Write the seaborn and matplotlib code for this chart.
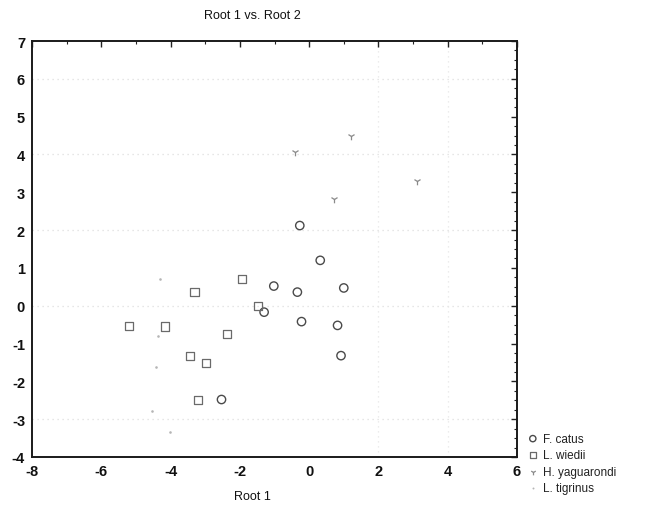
import matplotlib
matplotlib.use("Agg")
import matplotlib.pyplot as plt
from matplotlib.ticker import MultipleLocator
import seaborn as sns
import pandas as pd

# ---- data ----
catus_x = [-0.27, 0.32, -1.02, -0.34, 1.00, -1.30, -0.22, 0.82, 0.92, -2.53]
catus_y = [2.12, 1.20, 0.52, 0.36, 0.47, -0.17, -0.42, -0.52, -1.32, -2.48]
wiedii_x = [-1.95, -3.31, -1.47, -5.20, -4.16, -2.36, -3.44, -2.99, -3.20]
wiedii_y = [0.71, 0.36, 0.00, -0.53, -0.55, -0.75, -1.32, -1.51, -2.49]
yagua_x = [1.21, -0.40, 3.12, 0.73]
yagua_y = [4.50, 4.06, 3.31, 2.83]
tigr_x = [-4.30, -4.37, -4.42, -4.54, -4.01]
tigr_y = [0.71, -0.79, -1.63, -2.78, -3.34]
species = ["F. catus", "L. wiedii", "H. yaguarondi", "L. tigrinus"]
x_ticks = [-8, -6, -4, -2, 0, 2, 4, 6]
y_ticks = [-4, -3, -2, -1, 0, 1, 2, 3, 4, 5, 6, 7]
title = "Root 1 vs. Root 2"
xlabel = "Root 1"

df = pd.concat([
    pd.DataFrame({"x": catus_x, "y": catus_y, "sp": species[0]}),
    pd.DataFrame({"x": wiedii_x, "y": wiedii_y, "sp": species[1]}),
    pd.DataFrame({"x": yagua_x, "y": yagua_y, "sp": species[2]}),
    pd.DataFrame({"x": tigr_x, "y": tigr_y, "sp": species[3]}),
])

sns.set_style("white")
plt.rcParams["font.family"] = ["Liberation Sans", "DejaVu Sans"]
plt.rcParams["axes.unicode_minus"] = False

fig = plt.figure(figsize=(6.46, 5.06), dpi=100)
ax = fig.add_axes([32 / 646, 1 - 458 / 506, (517 - 32) / 646, (458 - 42) / 506])

# faint dotted scan-like grid
for gy in [6, 4, 2, 0, -3]:
    ax.axhline(gy, color="#dedede", lw=0.9, ls=(0, (1, 3)), zorder=0)
for gx in [2, 4]:
    ax.axvline(gx, color="#e6e6e6", lw=0.9, ls=(0, (1, 3)), zorder=0)

styles = {
    species[0]: dict(marker="o", s=36, facecolor="none", edgecolor="#4a4a4a", linewidth=1.0),
    species[1]: dict(marker="s", s=34, facecolor="none", edgecolor="#6a6a6a", linewidth=0.9),
    species[2]: dict(marker="1", s=30, color="#8a8a8a", linewidth=0.9),
    species[3]: dict(marker=".", s=14, color="#b5b5b5", linewidth=0.0),
}
for sp in species:
    sub = df[df["sp"] == sp]
    sns.scatterplot(data=sub, x="x", y="y", ax=ax, label=sp, zorder=3, **styles[sp])

ax.set_xlim(-8, 6)
ax.set_ylim(-4, 7)
ax.set_xticks(x_ticks)
ax.set_yticks(y_ticks)
ax.xaxis.set_minor_locator(MultipleLocator(1))
ax.yaxis.set_minor_locator(MultipleLocator(0.25))
ax.tick_params(axis="both", which="both", direction="in", top=True, right=True,
               color="#222222")
ax.tick_params(axis="both", which="major", length=4, width=1, labelsize=10.5,
               labelcolor="#111111", pad=5)
ax.tick_params(axis="both", which="minor", length=2.5, width=0.8)
for lbl in ax.get_xticklabels() + ax.get_yticklabels():
    lbl.set_fontweight("semibold")
ax.set_xlabel("")
ax.set_ylabel("")
for sp_ in ax.spines.values():
    sp_.set_color("#1a1a1a")
    sp_.set_linewidth(1.4)

fig.text(252 / 646, 1 - 16 / 506, title, ha="center", va="center", fontsize=9,
         color="#111111")
fig.text(252 / 646, 1 - 497 / 506, xlabel, ha="center", va="center", fontsize=9,
         color="#111111")

leg = ax.legend(loc="upper left", bbox_to_anchor=(521 / 646, 1 - 429 / 506),
                bbox_transform=fig.transFigure, frameon=False, fontsize=8.5,
                handletextpad=0.3, labelspacing=0.38, borderaxespad=0,
                handlelength=1.2, markerscale=0.75)
for t in leg.get_texts():
    t.set_color("#222222")

fig.savefig("out.png", dpi=100)
